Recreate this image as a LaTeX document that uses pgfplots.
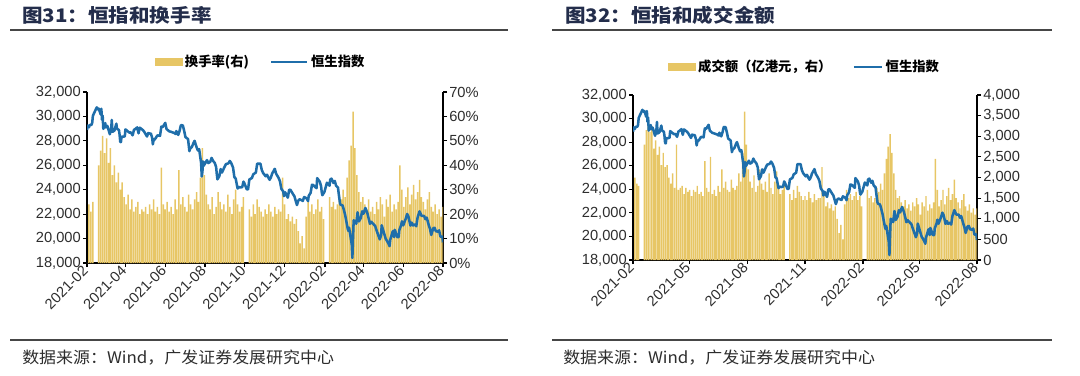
\documentclass[border=0pt]{standalone}
\usepackage{pgfplots}
\pgfplotsset{compat=1.18}
\usepackage{pgfplotstable}
\usepackage{graphicx}
\usepackage{fontspec}
\setmainfont{Liberation Sans}
\newfontfamily\cjk{Noto Sans CJK SC}
\definecolor{gold}{RGB}{231,198,101}
\definecolor{hsiblue}{RGB}{31,110,170}
\definecolor{navy}{RGB}{35,45,75}
\definecolor{tickgray}{RGB}{45,45,45}
\definecolor{rulegray}{RGB}{70,70,70}
\newcommand\tickfont{\fontsize{11}{13}\selectfont}
\newcommand\legfont{\cjk\bfseries\fontsize{10}{12}\selectfont}

\pgfplotstableread{
d tr amt
0 31 2400
3 24 2000
6 21 1850
9 25 1800
18 40 2800
21 46 3150
24 52 3400
27 45 3100
30 51 3250
33 41 2700
36 47 2900
39 36 2550
42 40 2750
45 33 2300
48 37 2600
51 30 2250
54 33 2300
57 27 2000
60 24 1850
63 28 2100
66 22 1750
69 26 2800
72 21 1700
75 23 1750
78 25 1800
81 20 1600
84 22 1750
87 21 1650
90 23 1700
93 20 1550
96 24 1700
99 22 1650
102 26 1800
105 21 1600
108 23 1650
111 20 1550
114 39 2400
117 24 1750
120 22 1650
123 25 2500
126 21 1600
129 23 1700
132 20 1550
135 26 1800
138 22 1650
141 38 2200
144 24 1750
147 27 1900
150 23 1700
153 21 1650
156 28 1950
159 24 1750
162 22 1700
165 26 1800
168 29 2100
171 25 1900
174 35 2600
177 47 3600
180 36 2800
183 28 2200
186 24 1900
189 22 1750
192 27 2050
195 20 1650
198 23 1800
201 29 2200
204 25 1850
207 22 1700
210 24 1900
213 21 1650
216 28 2100
219 23 1750
222 20 1600
225 26 1900
228 30 2150
231 24 1750
234 21 1600
237 23 1700
240 27 1900
249 22 1600
252 19 1450
255 24 1700
258 20 1500
261 26 1800
264 23 1650
267 21 1550
270 19 1450
273 22 1550
276 20 1450
279 24 1650
282 21 1500
285 19 1400
288 23 1600
291 20 1450
294 22 1500
297 21 1500
300 35 2250
303 24 1650
306 18 1300
309 20 1400
312 17 1250
315 19 1350
318 16 1200
321 18 1300
324 13 1000
327 8 650
330 11 850
333 6 500
336 19 1350
339 25 1700
342 21 1500
345 24 1600
348 20 1450
351 22 1550
354 26 1650
357 21 1450
360 23 1550
363 18 1300
372 27 1700
375 23 1500
378 25 1550
381 22 1400
384 24 1500
387 28 1750
390 26 1650
393 30 1850
396 27 1700
399 35 2100
402 42 2450
405 48 2750
408 62 3050
411 47 2600
414 36 2100
417 29 1700
420 25 1500
423 27 1550
426 24 1400
429 22 1300
432 26 1450
435 21 1250
438 23 1350
441 20 1200
444 25 1400
447 22 1300
450 27 1500
453 24 1350
456 19 1100
459 26 1400
462 23 1300
465 28 1550
468 21 1200
471 24 1350
474 22 1250
477 25 1400
480 40 2450
483 30 1700
486 23 1300
489 27 1450
492 31 1700
495 24 1350
498 28 1550
501 32 1750
504 26 1450
507 29 1600
510 34 1950
513 27 1500
516 25 1400
519 22 1250
522 26 1450
525 29 1600
528 23 1300
531 21 1200
534 24 1350
537 20 1150
540 22 1250
543 19 1100
546 23 1250
}\bars

\pgfplotstableread{
d v
0 28893
1 29249
3 29113
4 29289
7 29319
8 29476
9 30038
10 30173
15 30746
16 30584
17 30595
18 30644
21 30156
22 30632
23 29718
24 30074
25 28980
28 29452
29 29095
31 29236
32 29098
35 28540
36 28773
37 28907
38 29718
39 28739
42 28833
43 29027
45 29405
46 28990
49 28885
50 28497
51 27918
52 27899
53 28336
56 28338
58 28378
59 28939
65 28674
67 28699
70 28453
72 28900
74 28969
77 29106
79 28621
81 29078
84 28952
86 28868
88 28725
92 28357
94 28637
95 28610
98 28595
100 28231
101 27718
102 28027
105 28194
108 28450
112 28412
114 29166
116 29124
120 29468
122 28967
126 28787
129 28738
134 28638
136 28558
137 28801
140 28489
142 28817
144 29288
147 29268
149 28828
151 28310
155 28143
157 27154
158 27344
161 27515
163 27787
165 28004
168 27489
170 27224
172 27321
175 26192
176 25086
177 25473
178 26315
179 25961
182 26235
184 26426
186 26179
189 26283
191 26605
193 26391
196 26181
198 25867
199 25316
200 24849
203 25109
205 25693
207 25407
211 25879
213 26090
217 26163
219 26353
221 26205
224 25813
226 25033
228 24920
231 24099
233 24221
235 24192
238 24208
240 24663
241 24575
245 24036
247 24027
249 24837
253 24963
255 25262
259 25410
261 26136
263 26126
266 26132
268 25628
270 25377
274 25100
276 25225
280 24813
282 24996
284 25327
288 25713
290 25319
294 24952
296 24685
298 24080
301 23852
302 23475
304 23789
308 23349
310 23996
312 23995
316 23635
318 23475
322 22744
324 23102
326 23223
331 23086
333 23398
337 23289
339 23072
340 23493
343 23746
345 24402
347 24383
350 24218
352 24127
353 24952
357 24656
359 24289
360 23807
361 23550
364 23802
368 24573
372 24329
373 24829
375 24906
378 24556
380 24718
382 24328
385 24170
386 23690
388 22901
389 22767
392 22713
394 22344
396 21906
399 21057
400 20765
401 20627
402 20890
403 20554
406 19531
407 18415
408 20087
409 21501
410 21412
413 21221
415 22154
417 21404
420 21684
422 22232
424 22039
427 22502
430 22080
434 21208
436 21374
442 21027
444 20682
448 20089
449 19934
451 20276
452 21089
458 20001
462 19634
464 19380
465 19898
469 20602
471 20120
472 20717
476 20112
478 20116
479 20697
482 21123
483 21415
485 21082
489 21653
491 22014
493 21806
496 21067
498 21308
500 21075
503 21163
505 21008
507 21719
510 22229
512 21996
513 21860
517 21853
519 21586
521 21725
524 21124
526 20797
528 20297
531 20846
533 20890
535 20609
538 20562
540 20670
542 20156
545 20165
546 19689
}\hsi

\pgfplotsset{
  common/.style={
    scale only axis, anchor=south west,
    xmin=0, xmax=546,
    tick align=outside, major tick length=3pt,
    axis line style={-, black, line width=0.8pt},
    tick style={black, line width=0.8pt},
    xticklabel style={rotate=45, anchor=east, font=\tickfont, text=tickgray, inner sep=1.5pt},
    yticklabel style={font=\tickfont, text=tickgray, inner sep=1.5pt},
    /pgf/number format/assume math mode=true,
    /pgf/number format/fixed,
    /pgf/number format/1000 sep={,},
  },
  barax/.style={common, axis y line*=right, axis x line*=bottom, ymin=0},
  lineax/.style={common, axis y line*=left, axis x line=none, ymin=18000, ymax=32000,
    ytick={18000,20000,...,32000}, scaled y ticks=false,
    legend columns=2,
  },
}

\begin{document}
\begin{tikzpicture}[x=1pt,y=1pt]
\useasboundingbox (0,0) rectangle (810,281.25);
% titles and rules
\node[anchor=west, inner sep=0, text=navy] at (16.5,270) {\scalebox{1.1}[1]{\cjk\bfseries\fontsize{14}{16}\selectfont 图31：恒指和换手率}};
\node[anchor=west, inner sep=0, text=navy] at (423.75,270) {\scalebox{1.1}[1]{\cjk\bfseries\fontsize{14}{16}\selectfont 图32：恒指和成交金额}};
\draw[rulegray, line width=1.2pt] (7.5,258.75) -- (381,258.75);
\draw[rulegray, line width=1.2pt] (414,258.75) -- (789,258.75);
\draw[rulegray, line width=1.2pt] (7.5,26.25) -- (381,26.25);
\draw[rulegray, line width=1.2pt] (414,26.25) -- (789,26.25);
\node[anchor=west, inner sep=0, text=tickgray] at (16.5,12.75) {\scalebox{1.06}[1]{\cjk\fontsize{12}{14}\selectfont 数据来源：Wind，广发证券发展研究中心}};
\node[anchor=west, inner sep=0, text=tickgray] at (422.25,12.75) {\scalebox{1.06}[1]{\cjk\fontsize{12}{14}\selectfont 数据来源：Wind，广发证券发展研究中心}};

% ---------- left panel ----------
\begin{axis}[barax, at={(65.25pt,84pt)}, width=267pt, height=128.25pt,
  ymax=70, ytick={0,10,...,70}, yticklabel={\pgfmathprintnumber{\tick}\%},
  xtick={0,59,120,181,242,303,365,424,485,546},
  xticklabels={2021-02,2021-04,2021-06,2021-08,2021-10,2021-12,2022-02,2022-04,2022-06,2022-08}]
\addplot[ybar, bar width=2.3, fill=gold, draw=none] table[x=d, y=tr]{\bars};
\end{axis}
\begin{axis}[lineax, at={(65.25pt,84pt)}, width=267pt, height=128.25pt,
  legend style={at={(0.489,1.175)}, anchor=center, draw=none, fill=none, font=\legfont,
    inner sep=0pt, /tikz/every even column/.append style={column sep=14pt}}]
\addlegendimage{legend image code/.code={\fill[gold] (0pt,-2.6pt) rectangle (20pt,2.6pt);}}
\addlegendentry{换手率(右)}
\addlegendimage{legend image code/.code={\draw[hsiblue, line width=1.6pt] (0pt,0pt) -- (27pt,0pt);}}
\addlegendentry{恒生指数}
\addplot[forget plot, hsiblue, line width=1.9pt, line join=round] table[x=d, y=v]{\hsi};
\end{axis}

% ---------- right panel ----------
\begin{axis}[barax, at={(474.75pt,86.25pt)}, width=258pt, height=123.75pt,
  ymax=4000, ytick={0,500,...,4000},
  xtick={0,89,181,273,365,454,546},
  xticklabels={2021-02,2021-05,2021-08,2021-11,2022-02,2022-05,2022-08}]
\addplot[ybar, bar width=2.3, fill=gold, draw=none] table[x=d, y=amt]{\bars};
\end{axis}
\begin{axis}[lineax, at={(474.75pt,86.25pt)}, width=258pt, height=123.75pt,
  legend style={at={(0.5,1.17)}, anchor=center, draw=none, fill=none, font=\legfont,
    inner sep=0pt, /tikz/every even column/.append style={column sep=14pt}}]
\addlegendimage{legend image code/.code={\fill[gold] (0pt,-2.6pt) rectangle (20pt,2.6pt);}}
\addlegendentry{成交额（亿港元，右）}
\addlegendimage{legend image code/.code={\draw[hsiblue, line width=1.6pt] (0pt,0pt) -- (21pt,0pt);}}
\addlegendentry{恒生指数}
\addplot[forget plot, hsiblue, line width=1.9pt, line join=round] table[x=d, y=v]{\hsi};
\end{axis}
\end{tikzpicture}
\end{document}
